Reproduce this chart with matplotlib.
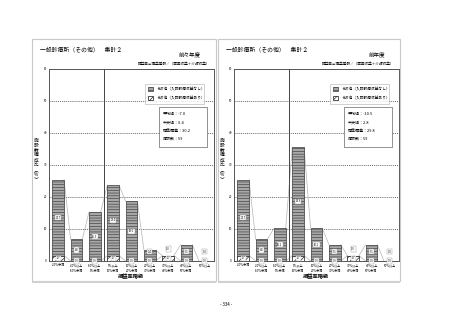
import matplotlib
matplotlib.use('Agg')
import numpy as np
from matplotlib import pyplot as plt
from matplotlib.patches import Rectangle, Patch

plt.rcParams['font.family'] = ['Noto Sans CJK JP', 'DejaVu Sans']
plt.rcParams['hatch.linewidth'] = 0.45

categories = ['-20%未満', '-20%以上\n-10%未満', '-10%以上\n0%未満', '0%以上\n10%未満',
              '10%以上\n20%未満', '20%以上\n30%未満', '30%以上\n40%未満',
              '40%以上\n50%未満', '50%以上']

# 前々年度 (left) / 前年度 (right)
no_inpatient_prev2 = [23.7, 6.8, 15.3, 22.0, 18.6, 3.4, 0.0, 5.1, 0.0]
inpatient_prev2 = [1.7, 0.0, 0.0, 1.7, 0.0, 0.0, 1.7, 0.0, 0.0]
no_inpatient_prev1 = [23.7, 6.8, 10.2, 33.9, 10.2, 5.1, 0.0, 5.1, 0.0]
inpatient_prev1 = [1.7, 0.0, 0.0, 1.7, 0.0, 0.0, 1.7, 0.0, 0.0]

stats_prev2 = ['平均値：-7.0', '中央値：0.4', '標準偏差：30.2', '施設数：59']
stats_prev1 = ['平均値：-10.5', '中央値：2.8', '標準偏差：29.8', '施設数：59']

title = '一般診療所（その他）　集計２'
subtitle = '損益率＝損益差額／（医業収益＋介護収益）'
legend_labels = ['その他（入院診療収益なし）', 'その他（入院診療収益あり）']
yticks = [0, 10, 20, 30, 40, 50, 60]

W, H = 453, 320
STRIPE = dict(facecolor='#a8a8a8', edgecolor='#3a3a3a', hatch='------', linewidth=0.5)
DIAG = dict(facecolor='white', edgecolor='#111111', hatch='//////', linewidth=0.5)


def fx(px):
    return px / W


def fy(py):
    return 1 - py / H


def panel(fig, x0, x1, ax_x0, ax_x1, year, top, bottom, stats):
    # panel frame
    fig.patches.append(Rectangle((fx(x0), fy(281)), fx(x1 - x0), (281 - 39) / H,
                                 transform=fig.transFigure, fill=False,
                                 edgecolor='#c8c8c8', linewidth=0.8))
    fig.patches.append(Rectangle((fx(x0), fy(282.5)), fx(x1 - x0), 1.5 / H,
                                 transform=fig.transFigure, facecolor='#d0d0d0',
                                 edgecolor='none'))
    fig.text(fx(x0 + 8), fy(50.5), title, fontsize=4.2, va='center', ha='left')
    fig.text(fx(x1 - 15), fy(54.5), year, fontsize=4.0, va='center', ha='right')
    fig.text(fx(x1 - 6), fy(63.5), subtitle, fontsize=2.6, va='center', ha='right')
    fig.text(fx(x0 + 4), fy(160), '施\n設\n数\n構\n成\n比\n︵\n%\n︶', fontsize=3.4,
             va='center', ha='center', linespacing=1.0)

    ax = fig.add_axes([fx(ax_x0), fy(261), fx(ax_x1 - ax_x0), (261 - 69) / H])
    x = np.arange(len(categories))
    w = 0.64
    bottom = np.array(bottom)
    top = np.array(top)
    total = bottom + top
    ax.bar(x, bottom, w, **DIAG, zorder=3)
    ax.bar(x, top, w, bottom=bottom, **STRIPE, zorder=3)

    # connecting lines between bar tops
    for i in range(len(x) - 1):
        ax.plot([x[i] + w / 2, x[i + 1] - w / 2], [total[i], total[i + 1]],
                color='#b5b5b5', lw=0.5, zorder=2)
        ax.plot([x[i] + w / 2, x[i + 1] - w / 2], [bottom[i], bottom[i + 1]],
                color='#b5b5b5', lw=0.5, zorder=2)

    box = dict(boxstyle='square,pad=0.25', facecolor='white', edgecolor='#999999',
               linewidth=0.3)
    for i in x:
        yb = bottom[i] / 2
        yt = max(bottom[i] + top[i] / 2, yb + 2.9)
        ax.text(i, yb, f'{bottom[i]:.1f}', fontsize=1.9, ha='center', va='center',
                bbox=box, zorder=5)
        ax.text(i, yt, f'{top[i]:.1f}', fontsize=1.9, ha='center', va='center',
                bbox=box, zorder=5)

    ax.set_xlim(-0.5, len(x) - 0.5)
    ax.set_ylim(0, 60)
    ax.set_yticks(yticks)
    ax.set_yticklabels([str(t) for t in yticks], fontsize=2.2)
    ax.set_xticks(x)
    ax.set_xticklabels(categories, fontsize=2.2, linespacing=1.5)
    ax.tick_params(length=0, pad=1.5)
    for t in yticks[1:-1]:
        ax.axhline(t, color='#333333', lw=0.5, ls=(0, (1.5, 1.5)), zorder=1)
    ax.axvline(2.5, color='#444444', lw=0.7, zorder=4)
    for s in ax.spines.values():
        s.set_color('#555555')
        s.set_linewidth(0.7)
    ax.set_xlabel('損益率階級', fontsize=3.8, fontweight='bold', labelpad=0.5)

    handles = [Patch(**STRIPE), Patch(**DIAG)]
    leg = ax.legend(handles, legend_labels, loc='upper left',
                    bbox_to_anchor=(0.57, 0.82, 0.38, 0.113), mode='expand',
                    fontsize=2.7, frameon=True, fancybox=False, handlelength=1.3,
                    handleheight=1.3, borderpad=0.9, labelspacing=1.2,
                    handletextpad=0.8)
    leg.get_frame().set_edgecolor('#999999')
    leg.get_frame().set_linewidth(0.4)

    ax.add_patch(Rectangle((0.667, 0.594), 0.29, 0.208, transform=ax.transAxes,
                           facecolor='white', edgecolor='#666666', linewidth=0.5,
                           zorder=6))
    for s, yy in zip(stats, [0.766, 0.721, 0.678, 0.635]):
        ax.text(0.69, yy, s, transform=ax.transAxes, fontsize=2.9, va='center',
                ha='left', zorder=7)
    return ax


def main():
    fig = plt.figure(figsize=(W / 100, H / 100), dpi=100)
    panel(fig, 32, 216, 49, 214, '前々年度', no_inpatient_prev2, inpatient_prev2,
          stats_prev2)
    panel(fig, 218, 400, 234, 399, '前年度', no_inpatient_prev1, inpatient_prev1,
          stats_prev1)
    fig.text(0.5, fy(304), '- 334 -', fontsize=3.2, ha='center', va='center')
    fig.savefig('out.png', dpi=100)


if __name__ == '__main__':
    main()
